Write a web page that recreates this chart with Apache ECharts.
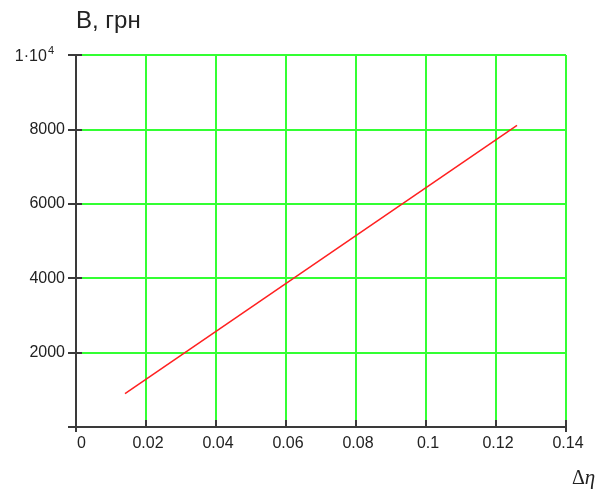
<!DOCTYPE html>
<html>
<head>
<meta charset="utf-8">
<script src="https://cdn.jsdelivr.net/npm/echarts@6/dist/echarts.min.js"></script>
<style>html,body{margin:0;padding:0;background:#fff}#c{width:610px;height:490px}</style>
</head>
<body>
<div id="c"></div>
<script>
// data
const etaValues = [0.014, 0.126];
const costValues = [895, 8110];
const xTickStep = 0.02;
const yTickStep = 2000;
const yAxisTitle = 'В, грн';

const FONT = 'Arial, "Liberation Sans", sans-serif';
const AX = '#3a3a3a';
const GREEN = '#33ff33';

const chart = echarts.init(document.getElementById('c'), null, {renderer: 'canvas'});
const pts = etaValues.map((v, i) => [v, costValues[i]]);

chart.setOption({
  animation: false,
  backgroundColor: '#fff',
  grid: {left: 76, right: 44, top: 55, bottom: 63, containLabel: false},
  xAxis: [{
    type: 'value', min: 0, max: 0.14, interval: xTickStep,
    axisLine: {show: true, onZero: false, lineStyle: {color: AX, width: 2}},
    axisTick: {show: true, inside: true, length: 7, lineStyle: {color: AX, width: 2}},
    splitLine: {show: true, lineStyle: {color: GREEN, width: 2}},
    axisLabel: {color: '#222', fontFamily: FONT, fontSize: 16, margin: 9,
      formatter: v => v === 0 ? '{z|0}' : '{n|' + String(+v.toFixed(2)) + '}',
      rich: {
        z: {fontFamily: FONT, fontSize: 16, color: '#222', padding: [0, 0, 0, 11]},
        n: {fontFamily: FONT, fontSize: 16, color: '#222', padding: [0, 0, 0, 4]}
      }}
  }, {
    type: 'value', min: 0, max: 0.14, position: 'bottom',
    axisLine: {show: false},
    axisTick: {show: true, inside: false, length: 5, customValues: [0, 0.14], lineStyle: {color: AX, width: 2}},
    splitLine: {show: false},
    axisLabel: {show: false}
  }],
  yAxis: [{
    type: 'value', min: 0, max: 10000, interval: yTickStep,
    axisLine: {show: true, onZero: false, lineStyle: {color: AX, width: 2}},
    axisTick: {show: true, inside: false, length: 8, lineStyle: {color: AX, width: 2}},
    splitLine: {show: true, lineStyle: {color: GREEN, width: 2}},
    axisLabel: {color: '#222', fontFamily: FONT, fontSize: 16, margin: 11,
      formatter: v => v === 0 ? '' : (v === 10000 ? '{t|1·10}{s|4}{p|}' : String(v)),
      rich: {
        t: {fontSize: 16, fontFamily: FONT, color: '#222', padding: [4, 0, 0, 0]},
        s: {fontSize: 11, fontFamily: FONT, color: '#222', verticalAlign: 'top', padding: [0, 0, 6, 1]},
        p: {width: 11}
      }}
  }, {
    type: 'value', min: 0, max: 10000, interval: yTickStep, position: 'left',
    axisLine: {show: false},
    axisTick: {show: true, inside: true, length: 6, lineStyle: {color: AX, width: 2}},
    splitLine: {show: false},
    axisLabel: {show: false}
  }],
  series: [{
    type: 'line', data: pts, xAxisIndex: 0, yAxisIndex: 0,
    symbol: 'none', lineStyle: {color: '#ff2020', width: 1.5}, z: 5
  }],
  graphic: [{
    type: 'text', left: 76, top: 9,
    style: {text: yAxisTitle, font: '24px ' + FONT, fill: '#222'}
  }, {
    type: 'text', left: 572, top: 468,
    style: {
      text: '{d|Δ}{e|η}',
      rich: {
        d: {font: '20px "Liberation Serif", "Times New Roman", serif', fill: '#222'},
        e: {font: 'italic 21px "Liberation Serif", "Times New Roman", serif', fill: '#222'}
      }
    }
  }]
});
</script>
</body>
</html>
